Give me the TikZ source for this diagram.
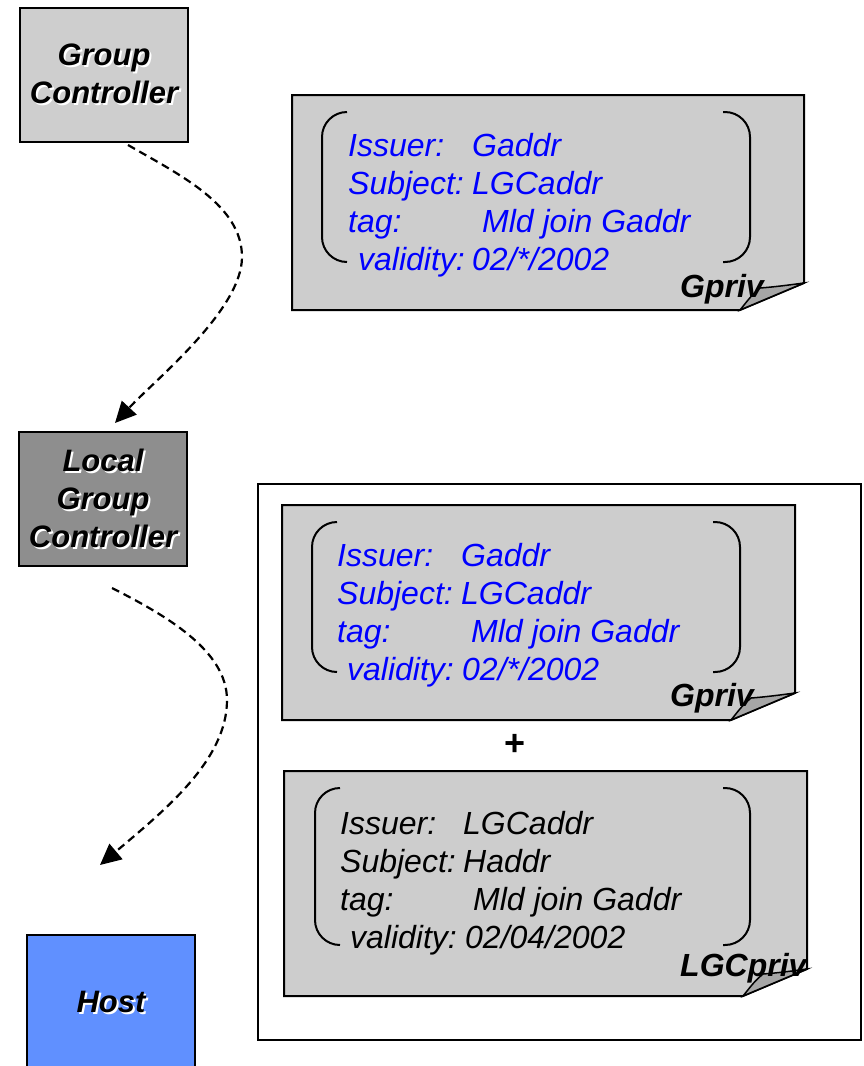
\documentclass[tikz,border=0pt]{standalone}
\usepackage{fontspec}
\setmainfont{Liberation Sans}
\usetikzlibrary{arrows.meta}

\definecolor{sheetgray}{RGB}{205,205,205}
\definecolor{foldgray}{RGB}{166,166,166}
\definecolor{gcgray}{RGB}{206,206,206}
\definecolor{lgcgray}{RGB}{142,142,142}
\definecolor{hostblue}{RGB}{96,144,255}
\definecolor{textblue}{RGB}{0,0,255}

% white drop shadow behind a line of text
\newcommand\shadowed[1]{\makebox[0pt][l]{\hspace*{2pt}\raisebox{-2pt}{\textcolor{white}{#1}}}#1}

% certificate sheet with a folded lower right corner: left, top, right, bottom
\newcommand\foldsheet[4]{%
  \draw[sheet] (#1,#2) -- (#3,#2) -- (#3,{#4-27}) -- ({#3-64},#4) -- (#1,#4) -- cycle;
  \draw[fold] (#3,{#4-27}) .. controls ({#3-15},{#4-25}) and ({#3-30},{#4-23}) .. ({#3-44},{#4-22})
    .. controls ({#3-52},{#4-15}) .. ({#3-64},#4) -- cycle;
}
% pair of rounded brackets: left x, right x, top, bottom
\newcommand\roundbrackets[4]{%
  \draw[bracket] ({#1+25},#3) -- (#1,#3) -- (#1,#4) -- ({#1+25},#4);
  \draw[bracket] ({#2-27},#3) -- (#2,#3) -- (#2,#4) -- ({#2-27},#4);
}

\tikzset{
  ctrlbox/.style={draw=black, line width=2.5pt, minimum width=168pt, minimum height=134pt,
    inner sep=0pt, outer sep=0pt, align=center,
    font=\fontsize{31}{38}\selectfont\bfseries\itshape},
  sheet/.style={draw=black, line width=2pt, fill=sheetgray},
  fold/.style={draw=black, line width=1.5pt, fill=foldgray},
  bracket/.style={draw=black, line width=2pt, rounded corners=25pt},
  certtext/.style={anchor=base west, inner sep=0pt, font=\fontsize{32}{38}\selectfont\itshape},
  keytext/.style={anchor=base west, inner sep=0pt, font=\fontsize{32}{38}\selectfont\bfseries\itshape},
  flow/.style={draw=black, line width=2.2pt, dash pattern=on 8pt off 5pt,
    -{Triangle[length=21pt,width=20pt]}},
  frame/.style={draw=black, line width=2pt}
}

\begin{document}
\begin{tikzpicture}[x=1pt,y=-1pt]
\useasboundingbox (0,0) rectangle (864,1066);
\clip (0,0) rectangle (864,1066);
\fill[white] (0,0) rectangle (864,1066);

% group controller's certificate
\foldsheet{292}{95}{804}{310}
\roundbrackets{322}{750}{112}{262}
\node[certtext, textblue] (c1a) at (348,156) {\makebox[124pt][l]{Issuer:}Gaddr};
\node[certtext, textblue] (c1b) at (348,194) {\makebox[124pt][l]{Subject:}LGCaddr};
\node[certtext, textblue] (c1c) at (348,232) {\makebox[134pt][l]{tag:}Mld join Gaddr};
\node[certtext, textblue] (c1d) at (358,270) {\makebox[114pt][l]{validity:}02/*/2002};
\node[keytext] (k1) at (680,297) {Gpriv};

% certificate chain handed to the host
\draw[frame] (258,484) rectangle (861,1040);
\foldsheet{282}{505}{795}{720}
\roundbrackets{312}{740}{522}{672}
\node[certtext, textblue] (c2a) at (337,566) {\makebox[124pt][l]{Issuer:}Gaddr};
\node[certtext, textblue] (c2b) at (337,604) {\makebox[124pt][l]{Subject:}LGCaddr};
\node[certtext, textblue] (c2c) at (337,642) {\makebox[134pt][l]{tag:}Mld join Gaddr};
\node[certtext, textblue] (c2d) at (347,680) {\makebox[115pt][l]{validity:}02/*/2002};
\node[keytext] (k2) at (670,706) {Gpriv};

\node[inner sep=0pt, font=\fontsize{36}{40}\selectfont\bfseries] (plus) at (515,745) {+};

\foldsheet{284}{771}{807}{996}
\roundbrackets{315}{750}{788}{945}
\node[certtext] (c3a) at (340,834) {\makebox[123pt][l]{Issuer:}LGCaddr};
\node[certtext] (c3b) at (340,872) {\makebox[123pt][l]{Subject:}Haddr};
\node[certtext] (c3c) at (340,910) {\makebox[133pt][l]{tag:}Mld join Gaddr};
\node[certtext] (c3d) at (350,948) {\makebox[115pt][l]{validity:}02/04/2002};
\node[keytext] (k3) at (680,976) {LGCpriv};

% entities
\node[ctrlbox, fill=gcgray] (gc) at (104,75) {\shadowed{Group}\\\shadowed{Controller}};
\node[ctrlbox, fill=lgcgray] (lgc) at (103,499) {\shadowed{Local}\\\shadowed{Group}\\\shadowed{Controller}};
\node[ctrlbox, fill=hostblue, minimum height=136pt] (host) at (111,1003) {\shadowed{Host}};

% delegation flow
\coordinate (bend1) at (242,257);
\coordinate (bend2) at (227,700);
\draw[flow] ([shift={(24,3)}]gc.south) .. controls +(52,30) and +(0,-52) .. (bend1)
  .. controls +(0,53) and +(40,-43) .. ([shift={(12,-9)}]lgc.north);
\draw[flow] ([shift={(9,22)}]lgc.south) .. controls +(53,27) and +(0,-50) .. (bend2)
  .. controls +(0,60) and +(65,-55) .. ([shift={(-11,-70)}]host.north);
\end{tikzpicture}
\end{document}
